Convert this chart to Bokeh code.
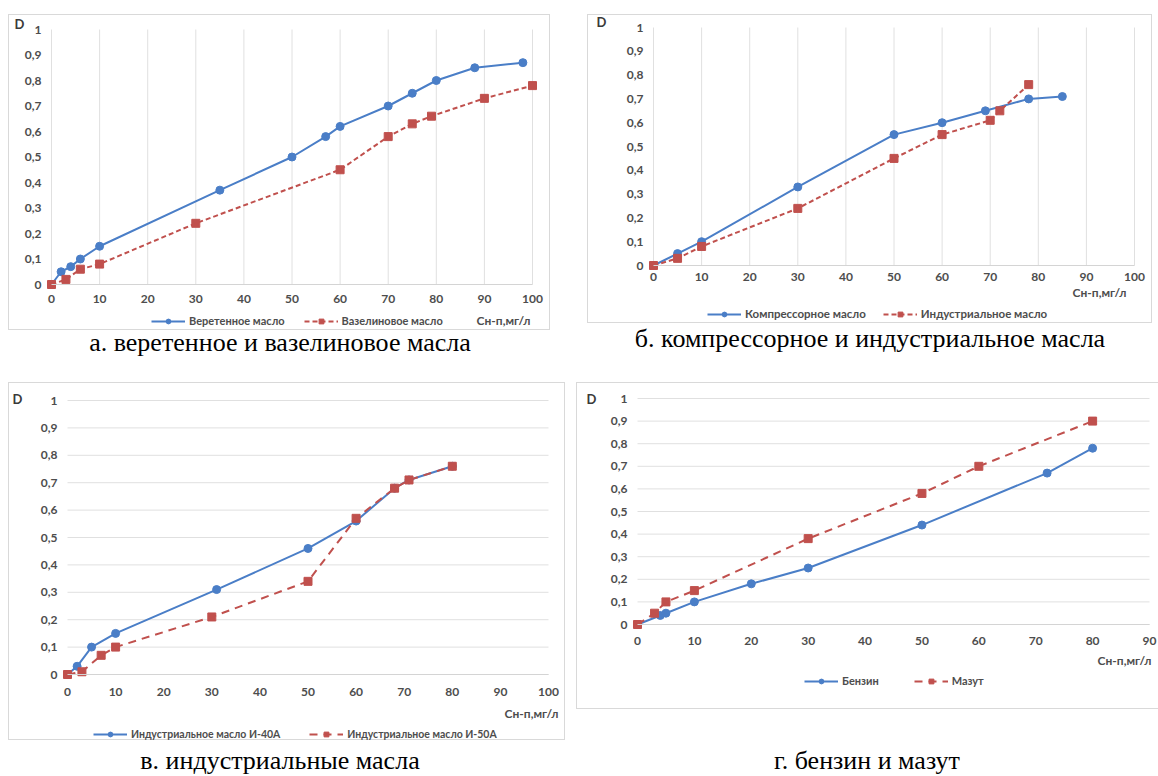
from bokeh.plotting import figure
from bokeh.models import (Range1d, FixedTicker, CustomJSTickFormatter, Legend, LegendItem,
                          Label, Div, Spacer)
from bokeh.layouts import column, row
from bokeh.embed import file_html
from bokeh.resources import INLINE

# ---------------- data ----------------
x_unit = "Сн-п,мг/л"
y_name = "D"
y_ticks = [0, 0.1, 0.2, 0.3, 0.4, 0.5, 0.6, 0.7, 0.8, 0.9, 1]
x_ticks_100 = [0, 10, 20, 30, 40, 50, 60, 70, 80, 90, 100]
x_ticks_90 = [0, 10, 20, 30, 40, 50, 60, 70, 80, 90]

a_blue_name = "Веретенное масло"
a_blue_x = [0, 2, 4, 6, 10, 35, 50, 57, 60, 70, 75, 80, 88, 98]
a_blue_y = [0, 0.05, 0.07, 0.10, 0.15, 0.37, 0.50, 0.58, 0.62, 0.70, 0.75, 0.80, 0.85, 0.87]
a_red_name = "Вазелиновое масло"
a_red_x = [0, 3, 6, 10, 30, 60, 70, 75, 79, 90, 100]
a_red_y = [0, 0.02, 0.06, 0.08, 0.24, 0.45, 0.58, 0.63, 0.66, 0.73, 0.78]
a_caption = "а. веретенное и вазелиновое масла"

b_blue_name = "Компрессорное масло"
b_blue_x = [0, 5, 10, 30, 50, 60, 69, 78, 85]
b_blue_y = [0, 0.05, 0.10, 0.33, 0.55, 0.60, 0.65, 0.70, 0.71]
b_red_name = "Индустриальное масло"
b_red_x = [0, 5, 10, 30, 50, 60, 70, 72, 78]
b_red_y = [0, 0.03, 0.08, 0.24, 0.45, 0.55, 0.61, 0.65, 0.76]
b_caption = "б. компрессорное и индустриальное масла"

c_blue_name = "Индустриальное масло И-40А"
c_blue_x = [0, 2, 5, 10, 31, 50, 60, 68, 71, 80]
c_blue_y = [0, 0.03, 0.10, 0.15, 0.31, 0.46, 0.56, 0.68, 0.71, 0.76]
c_red_name = "Индустриальное масло И-50А"
c_red_x = [0, 3, 7, 10, 30, 50, 60, 68, 71, 80]
c_red_y = [0, 0.01, 0.07, 0.10, 0.21, 0.34, 0.57, 0.68, 0.71, 0.76]
c_caption = "в. индустриальные масла"

d_blue_name = "Бензин"
d_blue_x = [0, 4, 5, 10, 20, 30, 50, 72, 80]
d_blue_y = [0, 0.04, 0.05, 0.10, 0.18, 0.25, 0.44, 0.67, 0.78]
d_red_name = "Мазут"
d_red_x = [0, 3, 5, 10, 30, 50, 60, 80]
d_red_y = [0, 0.05, 0.10, 0.15, 0.38, 0.58, 0.70, 0.90]
d_caption = "г. бензин и мазут"

# ---------------- styling ----------------
BLUE = "#4a7ec7"
RED = "#c0504d"
GRID = "#e0e0e0"
AXIS = "#d4d4d4"
TXT = "#4d4d4d"
FONT = "Lato"
FRAME_BORDER = "1px solid #d9d9d9"

fmt = CustomJSTickFormatter(code="""
if (Math.abs(tick - Math.round(tick)) < 1e-9) { return Math.round(tick).toString(); }
return tick.toFixed(1).replace('.', ',');
""")


def make_panel(g, bx, by, bname, rx, ry, rname, xticks, xmax, dash, border_css):
    w, h = g["w"], g["h"]
    ppx = (g["x1"] - g["x0"]) / xmax
    ppy = (g["y0"] - g["y1"])
    p = figure(width=w, height=h, output_backend="svg", toolbar_location=None,
               x_range=Range1d(-g["x0"] / ppx, xmax + (w - g["x1"]) / ppx),
               y_range=Range1d(-(h - g["y0"]) / ppy, 1 + g["y1"] / ppy),
               min_border=0)
    p.outline_line_color = None
    p.background_fill_color = "white"
    p.border_fill_color = "white"
    p.styles = border_css
    p.xgrid.visible = False
    p.ygrid.visible = False

    # light grid lines, drawn from the tick lists within the data box
    if g["vgrid"]:
        p.segment(x0=xticks, y0=[0] * len(xticks), x1=xticks, y1=[1] * len(xticks),
                  line_color=GRID, line_width=1)
    else:
        p.segment(x0=[0] * len(y_ticks), y0=y_ticks, x1=[xmax] * len(y_ticks), y1=y_ticks,
                  line_color=GRID, line_width=1)

    xa, ya = p.xaxis[0], p.yaxis[0]
    xa.fixed_location = 0
    ya.fixed_location = 0
    xa.bounds = (0, xmax)
    ya.bounds = (0, 1)
    xa.axis_line_color = AXIS
    ya.axis_line_color = None
    for ax in (xa, ya):
        ax.major_tick_line_color = None
        ax.minor_tick_line_color = None
        ax.major_label_text_font = FONT
        ax.major_label_text_font_size = "12px"
        ax.major_label_text_font_style = "bold"
        ax.major_label_text_color = TXT
        ax.formatter = fmt
    xa.ticker = FixedTicker(ticks=xticks)
    ya.ticker = FixedTicker(ticks=y_ticks)
    xa.major_label_standoff = g["xstand"]
    ya.major_label_standoff = g["ystand"]

    l1 = p.line(bx, by, line_color=BLUE, line_width=2)
    m1 = p.scatter(bx, by, marker="circle", size=8, fill_color=BLUE, line_color=BLUE)
    l2 = p.line(rx, ry, line_color=RED, line_width=2, line_dash=dash)
    m2 = p.scatter(rx, ry, marker="square", size=8, fill_color=RED, line_color=RED)

    lh = 12
    legend = Legend(items=[LegendItem(label=bname, renderers=[l1, m1]),
                           LegendItem(label=rname, renderers=[l2, m2])],
                    orientation="horizontal",
                    location=(g["lx"], h - g["ly"] - lh // 2),
                    glyph_width=34, glyph_height=lh, label_height=lh,
                    label_standoff=4, spacing=g["lsp"], padding=0, margin=0,
                    border_line_color=None, background_fill_alpha=0,
                    label_text_font=FONT, label_text_font_size=g["lfs"],
                    label_text_font_style="bold", label_text_color=TXT)
    p.add_layout(legend)

    dx, dy = g["D"]
    p.add_layout(Label(x=(dx - g["x0"]) / ppx, y=(g["y0"] - dy) / ppy, text=y_name,
                       text_align="center", text_baseline="middle",
                       text_font=FONT, text_font_size="13px", text_font_style="bold",
                       text_color="#3a3a3a"))
    ux, uy = g["U"]
    p.add_layout(Label(x=(ux - g["x0"]) / ppx, y=(g["y0"] - uy) / ppy, text=x_unit,
                       text_align="center", text_baseline="middle",
                       text_font=FONT, text_font_size="12px", text_font_style="bold",
                       text_color=TXT))
    return p


# geometry in pixels, relative to each figure's top-left corner
ga = dict(w=542, h=316, x0=42, x1=523, y1=14, y0=269,
          xstand=4, ystand=4, vgrid=True, lx=142, ly=306, lsp=19, lfs="11px",
          D=(10, 8), U=(494, 305))
gb = dict(w=565, h=309, x0=65, x1=546, y1=12, y0=250,
          xstand=1, ystand=4, vgrid=True, lx=119, ly=299, lsp=17, lfs="11.5px",
          D=(13, 6), U=(511, 277))
gc = dict(w=557, h=358, x0=58, x1=539, y1=17, y0=291,
          xstand=7, ystand=4, vgrid=False, lx=84, ly=351, lsp=29, lfs="10.5px",
          D=(8, 15), U=(522, 330))
gd = dict(w=582, h=327, x0=60, x1=572, y1=15, y0=241,
          xstand=6, ystand=4, vgrid=False, lx=227, ly=298, lsp=35, lfs="11px",
          D=(14, 15), U=(547, 277))

pa = make_panel(ga, a_blue_x, a_blue_y, a_blue_name, a_red_x, a_red_y, a_red_name,
                x_ticks_100, 100, "5 3", {"border": FRAME_BORDER})
pb = make_panel(gb, b_blue_x, b_blue_y, b_blue_name, b_red_x, b_red_y, b_red_name,
                x_ticks_100, 100, "5 3", {"border": FRAME_BORDER})
pc = make_panel(gc, c_blue_x, c_blue_y, c_blue_name, c_red_x, c_red_y, c_red_name,
                x_ticks_100, 100, "8 6", {"border": FRAME_BORDER})
pd = make_panel(gd, d_blue_x, d_blue_y, d_blue_name, d_red_x, d_red_y, d_red_name,
                x_ticks_90, 90, "8 6",
                {"border-top": FRAME_BORDER, "border-bottom": FRAME_BORDER,
                 "border-left": FRAME_BORDER})


def caption(text, w, h, shift):
    return Div(text=text, width=w, height=h, margin=(0, 0, 0, 0),
               styles={"font-family": "Liberation Serif", "font-size": "26px",
                       "line-height": "1", "text-align": "center", "color": "#000000",
                       "white-space": "nowrap",
                       "position": "relative", "top": f"{shift}px"})


layout = column(
    Spacer(height=14),
    row(Spacer(width=8), pa, Spacer(width=37), pb),
    row(Spacer(width=8), caption(a_caption, 544, 52, 0), Spacer(width=35),
        caption(b_caption, 566, 52, -4)),
    row(Spacer(width=8), pc, Spacer(width=11), pd),
    row(Spacer(width=8), caption(c_caption, 544, 30, 8), Spacer(width=24),
        caption(d_caption, 582, 30, 8)),
)

open("out.html", "w").write(file_html(layout, INLINE))
